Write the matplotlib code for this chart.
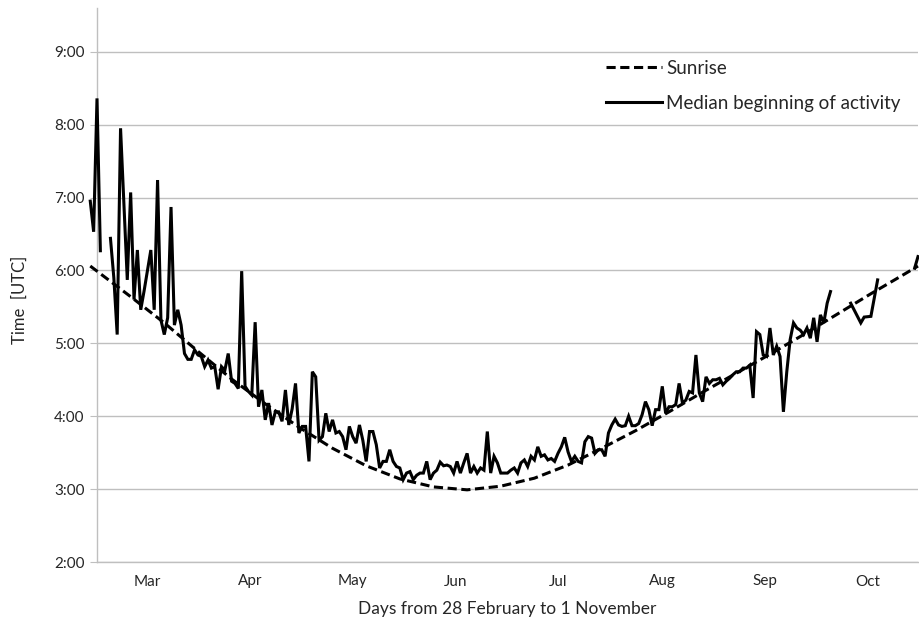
import numpy as np
import matplotlib
matplotlib.use("Agg")
import matplotlib.pyplot as plt

plt.rcParams['font.family'] = ['Lato', 'DejaVu Sans']

# Day index: 0 = 1 March
month_labels = ["Mar", "Apr", "May", "Jun", "Jul", "Aug", "Sep", "Oct"]
month_centers = [15, 45.5, 76, 106.5, 137, 168, 198.5, 229]

hour_ticks = [2, 3, 4, 5, 6, 7, 8, 9]
hour_labels = [f"{h}:00" for h in hour_ticks]

# Sunrise time (hours UTC)
sunrise_days = [-2, 0, 10, 20, 30, 40, 50, 60, 70, 80, 90, 100, 110, 120, 130,
                140, 150, 160, 170, 180, 190, 200, 210, 220, 230, 240, 244]
sunrise_hours = [6.06, 5.99, 5.64, 5.28, 4.89, 4.51, 4.17, 3.85, 3.56, 3.32,
                 3.14, 3.03, 2.99, 3.04, 3.15, 3.33, 3.56, 3.80, 4.06, 4.33,
                 4.59, 4.85, 5.12, 5.40, 5.68, 5.95, 6.06]

# Median beginning of activity, daily from day -2 (None = no data)
activity_first_day = -2
activity_daily = [
    6.95, 6.53, 8.36, 6.27, None, None, 6.44, 5.90, 5.12, 7.95,
    6.90, 5.87, 7.07, 5.60, 6.28, 5.46, 5.72, 6.00, 6.28, 5.46,
    7.24, 5.32, 5.12, 5.35, 6.87, 5.25, 5.46, 5.25, 4.86, 4.78,
    4.78, 4.91, 4.84, 4.82, 4.68, 4.77, 4.66, 4.68, 4.37, 4.68,
    4.63, 4.86, 4.48, 4.45, 4.38, 5.99, 4.41, 4.34, 4.29, 5.29,
    4.13, 4.36, 3.95, 4.18, 3.88, 4.06, 4.06, 3.93, 4.36, 3.88,
    4.10, 4.45, 3.77, 3.86, 3.86, 3.38, 4.61, 4.54, 3.67, 3.72,
    4.04, 3.79, 3.95, 3.77, 3.79, 3.72, 3.54, 3.86, 3.72, 3.63,
    3.88, 3.67, 3.38, 3.79, 3.79, 3.61, 3.29, 3.38, 3.38, 3.54,
    3.38, 3.31, 3.29, 3.13, 3.22, 3.24, 3.13, 3.19, 3.22, 3.22,
    3.38, 3.13, 3.22, 3.26, 3.37, 3.32, 3.33, 3.31, 3.22, 3.38,
    3.22, 3.36, 3.49, 3.22, 3.31, 3.22, 3.29, 3.26, 3.79, 3.22,
    3.45, 3.36, 3.22, 3.22, 3.22, 3.26, 3.29, 3.22, 3.36, 3.40,
    3.31, 3.45, 3.40, 3.58, 3.45, 3.47, 3.40, 3.42, 3.38, 3.49,
    3.58, 3.71, 3.51, 3.38, 3.45, 3.38, 3.36, 3.65, 3.72, 3.70,
    3.49, 3.54, 3.54, 3.45, 3.77, 3.88, 3.96, 3.88, 3.86, 3.87,
    4.00, 3.87, 3.87, 3.90, 4.02, 4.20, 4.09, 3.87, 4.09, 4.09,
    4.41, 4.04, 4.13, 4.13, 4.16, 4.45, 4.18, 4.22, 4.34, 4.32,
    4.84, 4.32, 4.20, 4.54, 4.45, 4.50, 4.50, 4.52, 4.43, 4.48,
    4.52, 4.57, 4.61, 4.61, 4.66, 4.66, 4.70, 4.25, 5.16, 5.12,
    4.84, 4.82, 5.21, 4.84, 4.96, 4.82, 4.06, 4.61, 5.05, 5.28,
    5.21, 5.18, 5.12, 5.21, 5.07, 5.35, 5.02, 5.39, 5.28, 5.55,
    5.71,
]
# Sparser observations late in the season (None = break in the line)
activity_late_days = [224, 227, 228, 230, 232, None, 243, 244]
activity_late_hours = [5.55, 5.28, 5.36, 5.37, 5.87, None, 6.03, 6.19]

act_days = list(range(activity_first_day, activity_first_day + len(activity_daily)))
act_days += [None] + activity_late_days
act_hours = activity_daily + [None] + activity_late_hours
act_days = np.array([np.nan if v is None else v for v in act_days], dtype=float)
act_hours = np.array([np.nan if v is None else v for v in act_hours], dtype=float)

grid_color = "#bfbfbf"
text_color = "#262626"

fig = plt.figure(figsize=(9.2, 6.22), dpi=100)
ax = fig.add_axes([97 / 920, 1 - 562 / 622, 821 / 920, 554 / 622])

ax.plot(sunrise_days, sunrise_hours, color="black", lw=2.2,
        dashes=(3.0, 1.5), label="Sunrise", clip_on=False, zorder=3)
ax.plot(act_days, act_hours, color="black", lw=2.2,
        label="Median beginning of activity", clip_on=False, zorder=4,
        solid_joinstyle="miter")

ax.set_xlim(0, 244)
ax.set_ylim(2, 9.6)

ax.set_yticks(hour_ticks)
ax.set_yticklabels(hour_labels)
ax.set_xticks(month_centers)
ax.set_xticklabels(month_labels)

ax.grid(axis="y", color=grid_color, lw=1)
ax.set_axisbelow(True)
for side in ("top", "right"):
    ax.spines[side].set_visible(False)
for side in ("left", "bottom"):
    ax.spines[side].set_color(grid_color)
    ax.spines[side].set_linewidth(1)

ax.tick_params(axis="y", length=5, color=grid_color, labelsize=11,
               labelcolor=text_color, pad=4)
ax.tick_params(axis="x", length=0, labelsize=11, labelcolor=text_color, pad=9)

fig.text(20 / 920, 1 - 300 / 622, "Time  [UTC]", rotation=90, ha="center",
         va="center", fontsize=12, color=text_color)
ax.set_xlabel("Days from 28 February to 1 November", fontsize=12.5,
              color=text_color, labelpad=9)

leg = ax.legend(loc="upper left", bbox_to_anchor=(606 / 920, 1 - 60 / 622),
                bbox_transform=fig.transFigure, frameon=False, fontsize=13.5,
                handlelength=3.0, handletextpad=0.2, labelspacing=0.95,
                borderpad=0, borderaxespad=0)
for t in leg.get_texts():
    t.set_color(text_color)

fig.savefig("out.png", dpi=100)
